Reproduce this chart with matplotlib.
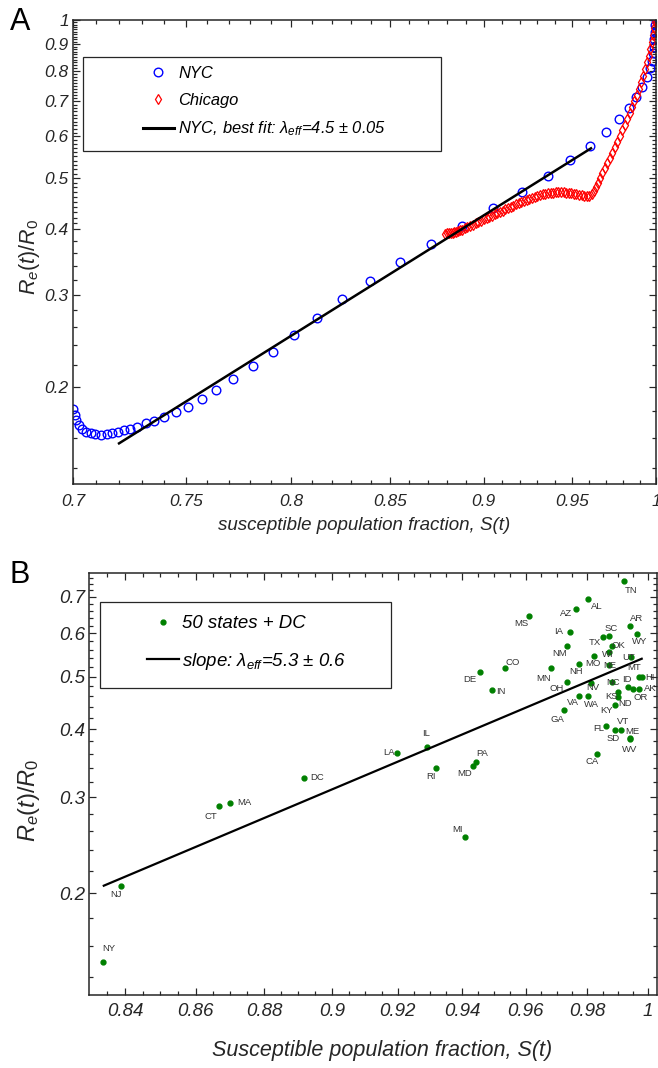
import numpy as np
import matplotlib
matplotlib.use("Agg")
import matplotlib.pyplot as plt
from matplotlib.lines import Line2D
from matplotlib.patches import Rectangle
from matplotlib.ticker import NullFormatter

plt.rcParams["font.family"] = ["Liberation Sans", "DejaVu Sans"]
plt.rcParams["mathtext.fontset"] = "custom"
plt.rcParams["mathtext.rm"] = "Liberation Sans"
plt.rcParams["mathtext.it"] = "Liberation Sans:italic"
plt.rcParams["mathtext.bf"] = "Liberation Sans:bold"

# ---------------- panel A data ----------------
nyc_s = [0.7000, 0.7007, 0.7014, 0.7025, 0.7040, 0.7056, 0.7076, 0.7097, 0.7123, 0.7148,
         0.7170, 0.7195, 0.7224, 0.7250, 0.7279, 0.7318, 0.7356, 0.7402, 0.7455, 0.7508,
         0.7573, 0.7642, 0.7722, 0.7814, 0.7909, 0.8013, 0.8127, 0.8254, 0.8395, 0.8551,
         0.8714, 0.8881, 0.9049, 0.9211, 0.9359, 0.9490, 0.9603, 0.9697, 0.9774, 0.9835,
         0.9880, 0.9916, 0.9944, 0.9962, 0.9975, 0.9983, 0.9988, 0.9990, 0.9993, 0.9995,
         0.9998]
nyc_r = [0.1816, 0.1768, 0.1730, 0.1693, 0.1663, 0.1644, 0.1632, 0.1625, 0.1622, 0.1625,
         0.1632, 0.1640, 0.1654, 0.1663, 0.1680, 0.1705, 0.1725, 0.1753, 0.1789, 0.1834,
         0.1895, 0.1971, 0.2068, 0.2195, 0.2334, 0.2508, 0.2710, 0.2938, 0.3183, 0.3455,
         0.3744, 0.4057, 0.4384, 0.4703, 0.5053, 0.5404, 0.5763, 0.6110, 0.6468, 0.6808,
         0.7144, 0.7465, 0.7800, 0.8090, 0.8350, 0.8640, 0.8890, 0.9190, 0.9500, 0.9780,
         1.0000]

chi_s = [0.8790, 0.8800, 0.8810, 0.8820, 0.8830, 0.8840, 0.8850, 0.8860, 0.8870, 0.8880,
         0.8895, 0.8910, 0.8925, 0.8940, 0.8955, 0.8970, 0.8985, 0.9000, 0.9015, 0.9030,
         0.9045, 0.9060, 0.9075, 0.9090, 0.9105, 0.9120, 0.9135, 0.9150, 0.9165, 0.9180,
         0.9195, 0.9210, 0.9225, 0.9240, 0.9255, 0.9270, 0.9285, 0.9300, 0.9315, 0.9330,
         0.9345, 0.9360, 0.9375, 0.9390, 0.9405, 0.9420, 0.9435, 0.9450, 0.9465, 0.9480,
         0.9495, 0.9510, 0.9525, 0.9540, 0.9555, 0.9570, 0.9585, 0.9600, 0.9615, 0.9628,
         0.9640, 0.9652, 0.9664, 0.9676, 0.9690, 0.9705, 0.9720, 0.9735, 0.9750, 0.9765,
         0.9780, 0.9795, 0.9810, 0.9825, 0.9840, 0.9855, 0.9869, 0.9883, 0.9897, 0.9910,
         0.9923, 0.9935, 0.9946, 0.9956, 0.9966, 0.9975, 0.9983, 0.9990, 0.9996, 1.0000]
chi_r = [0.3920, 0.3921, 0.3924, 0.3929, 0.3936, 0.3945, 0.3955, 0.3966, 0.3978, 0.3990,
         0.4012, 0.4034, 0.4056, 0.4078, 0.4101, 0.4124, 0.4147, 0.4170, 0.4193, 0.4216,
         0.4240, 0.4264, 0.4288, 0.4312, 0.4336, 0.4360, 0.4384, 0.4408, 0.4432, 0.4456,
         0.4480, 0.4505, 0.4528, 0.4550, 0.4571, 0.4591, 0.4610, 0.4627, 0.4643, 0.4657,
         0.4669, 0.4679, 0.4687, 0.4693, 0.4697, 0.4699, 0.4699, 0.4697, 0.4693, 0.4688,
         0.4682, 0.4670, 0.4660, 0.4649, 0.4638, 0.4629, 0.4623, 0.4626, 0.4660, 0.4720,
         0.4800, 0.4900, 0.5000, 0.5110, 0.5220, 0.5330, 0.5450, 0.5580, 0.5720, 0.5860,
         0.6010, 0.6160, 0.6320, 0.6480, 0.6650, 0.6830, 0.7010, 0.7200, 0.7400, 0.7610,
         0.7830, 0.8060, 0.8300, 0.8550, 0.8810, 0.9080, 0.9360, 0.9650, 0.9900, 1.0000]

fit_a_s = [0.720, 0.961]
fit_a_r = [0.1562, 0.5696]

# ---------------- panel B data ----------------
states = ["TN", "AL", "AZ", "MS", "IA", "TX", "SC", "AR", "WY", "NM",
          "OK", "WI", "MO", "UT", "NH", "NE", "MN", "CO", "DE", "MT",
          "HI", "OH", "NV", "NC", "ID", "AK", "OR", "IN", "KS", "ND",
          "VA", "WA", "KY", "GA", "FL", "SD", "VT", "ME", "WV", "CA",
          "PA", "MD", "IL", "LA", "RI", "DC", "MA", "CT", "MI", "NJ", "NY"]
state_s = [0.9921, 0.9803, 0.9762, 0.9612, 0.9743, 0.9852, 0.9872, 0.9941, 0.9962, 0.9732,
           0.9881, 0.9872, 0.9821, 0.9942, 0.9772, 0.9872, 0.9683, 0.9533, 0.9454, 0.9971,
           0.9980, 0.9732, 0.9813, 0.9882, 0.9932, 0.9971, 0.9951, 0.9494, 0.9901, 0.9901,
           0.9772, 0.9802, 0.9892, 0.9723, 0.9861, 0.9892, 0.9911, 0.9941, 0.9941, 0.9831,
           0.9443, 0.9434, 0.9289, 0.9198, 0.9319, 0.8918, 0.8699, 0.8668, 0.9407, 0.8390, 0.8339]
state_r = [0.748, 0.693, 0.6645, 0.6467, 0.6037, 0.591, 0.5927, 0.6184, 0.5985, 0.5697,
           0.5697, 0.554, 0.546, 0.5437, 0.5265, 0.5258, 0.5183, 0.5183, 0.5096, 0.4983,
           0.4983, 0.4892, 0.4858, 0.4892, 0.4777, 0.4749, 0.4737, 0.4717, 0.4677, 0.459,
           0.4598, 0.4598, 0.4426, 0.4333, 0.4055, 0.3987, 0.3987, 0.385, 0.3832, 0.3606,
           0.3486, 0.3428, 0.3706, 0.3613, 0.339, 0.3254, 0.2924, 0.2891, 0.2533, 0.2063, 0.1494]

fit_b_s = [0.8341, 0.9979]
fit_b_r = [0.2063, 0.539]

# where each state label sits relative to its dot (pixels, up is positive)
label_offset = {
    "TN": (7, -9), "AL": (8, -7), "AZ": (-10, -4), "MS": (-8, -8), "IA": (-11, 0),
    "TX": (-8, -6), "SC": (2, 8), "AR": (6, 8), "WY": (3, -7), "NM": (-7, -8),
    "OK": (6, 0), "WI": (-2, -2), "MO": (-1, -8), "UT": (-2, -1), "NH": (-3, -7),
    "NE": (0, -1), "MN": (-8, -10), "CO": (8, 6), "DE": (-10, -7), "MT": (-5, 10),
    "HI": (8, 0), "OH": (-10, -7), "NV": (1, -4), "NC": (1, -1), "ID": (-1, 8),
    "AK": (11, 0), "OR": (7, -8), "IN": (9, -1), "KS": (-7, -4), "ND": (7, -7),
    "VA": (-6, -6), "WA": (3, -8), "KY": (-9, -5), "GA": (-6, -9), "FL": (-7, -2),
    "SD": (-2, -9), "VT": (2, 8), "ME": (2, 7), "WV": (-1, -10), "CA": (-5, -8),
    "PA": (6, 8), "MD": (-9, -8), "IL": (-1, 14), "LA": (-8, 1), "RI": (-5, -8),
    "DC": (13, 1), "MA": (15, 1), "CT": (-8, -11), "MI": (-7, 8), "NJ": (-5, -9),
    "NY": (6, 13),
}

TXT = "#262626"
W, H = 658, 1068


def fig_rect(x0, y0, x1, y1):
    # pixel box (top-left origin) -> figure fraction rect
    return [x0 / W, 1 - y1 / H, (x1 - x0) / W, (y1 - y0) / H]


def style_axes(ax, lw=1.1):
    for sp in ax.spines.values():
        sp.set_linewidth(lw)
        sp.set_color(TXT)
    ax.tick_params(which="both", direction="in", top=True, right=True, colors=TXT, width=lw * 0.8)
    ax.tick_params(which="major", length=5)
    ax.tick_params(which="minor", length=3)
    ax.xaxis.set_minor_formatter(NullFormatter())
    ax.yaxis.set_minor_formatter(NullFormatter())


fig = plt.figure(figsize=(W / 100, H / 100), dpi=100)

# ================= panel A =================
ax1 = fig.add_axes(fig_rect(73, 20, 656, 484))
ax1.set_xscale("log")
ax1.set_yscale("log")
ax1.plot(nyc_s, nyc_r, ls="none", marker="o", ms=6.2, mfc="none", mec="blue", mew=1.0)
ax1.plot(chi_s, chi_r, ls="none", marker="d", ms=5.5, mfc="none", mec="red", mew=0.9)
ax1.plot(fit_a_s, fit_a_r, color="black", lw=1.8)
ax1.set_xlim(0.7, 1.0)
ax1.set_ylim(0.1307, 1.0)
style_axes(ax1)
ax1.set_xticks([0.7, 0.75, 0.8, 0.85, 0.9, 0.95, 1.0],
               ["0.7", "0.75", "0.8", "0.85", "0.9", "0.95", "1"],
               fontstyle="italic", fontsize=12.5, color=TXT)
ax1.set_yticks([0.2, 0.3, 0.4, 0.5, 0.6, 0.7, 0.8, 0.9, 1.0],
               ["0.2", "0.3", "0.4", "0.5", "0.6", "0.7", "0.8", "0.9", "1"],
               fontstyle="italic", fontsize=12.5, color=TXT)
ax1.set_xticks([v / 100 for v in range(71, 100) if v % 5], minor=True)
ax1.set_yticks([0.14, 0.16, 0.18, 0.22, 0.24, 0.26, 0.28, 0.32, 0.34, 0.36, 0.38]
               + [v / 100 for v in range(41, 100) if v % 10], minor=True)
ax1.tick_params(axis="x", which="major", pad=7)
ax1.tick_params(axis="y", which="major", pad=3)
ax1.set_xlabel("susceptible population fraction, S(t)", fontstyle="italic", fontsize=13.5, color=TXT)
ax1.xaxis.set_label_coords(0.5, -0.071)
ax1.set_ylabel("$R_e(t)/R_0$", fontsize=15.5, color=TXT)
ax1.yaxis.set_label_coords(-0.053, 0.49)

fig.add_artist(Rectangle((83 / W, 1 - 151 / H), (441 - 83) / W, (151 - 57) / H,
                         transform=fig.transFigure, fill=False, ec=TXT, lw=0.9))
h_a = [Line2D([], [], ls="none", marker="o", ms=6.2, mfc="none", mec="blue", mew=1.0),
       Line2D([], [], ls="none", marker="d", ms=5.5, mfc="none", mec="red", mew=0.9),
       Line2D([], [], color="black", lw=2.2)]
ax1.legend(h_a, ["NYC", "Chicago", r"NYC, best fit: $\lambda_{eff}$=4.5 $\pm$ 0.05"],
           loc="upper left", bbox_to_anchor=(143 / W, 1 - 66 / H), bbox_transform=fig.transFigure,
           frameon=False, prop={"style": "italic", "size": 11.9}, handlelength=1.85,
           handletextpad=0.28, labelspacing=0.72, borderpad=0, borderaxespad=0)
fig.text(20 / W, 1 - 22 / H, "A", fontsize=22, ha="center", va="center", color="black")

# ================= panel B =================
ax2 = fig.add_axes(fig_rect(89, 573, 657, 995))
ax2.set_xscale("log")
ax2.set_yscale("log")
ax2.plot(state_s, state_r, ls="none", marker="o", ms=3.5, color="green")
ax2.plot(fit_b_s, fit_b_r, color="black", lw=1.6)
for name, s, r in zip(states, state_s, state_r):
    ax2.annotate(name, (s, r), xytext=label_offset[name], textcoords="offset pixels",
                 ha="center", va="center", fontsize=6.8, color="#333333")
ax2.set_xlim(0.830, 1.003)
ax2.set_ylim(0.1299, 0.7748)
style_axes(ax2)
ax2.set_xticks([0.84, 0.86, 0.88, 0.9, 0.92, 0.94, 0.96, 0.98, 1.0],
               ["0.84", "0.86", "0.88", "0.9", "0.92", "0.94", "0.96", "0.98", "1"],
               fontstyle="italic", fontsize=13.5, color=TXT)
ax2.set_yticks([0.2, 0.3, 0.4, 0.5, 0.6, 0.7],
               ["0.2", "0.3", "0.4", "0.5", "0.6", "0.7"],
               fontstyle="italic", fontsize=13.5, color=TXT)
ax2.set_xticks([v / 1000 for v in range(835, 1001, 5) if v % 20], minor=True)
ax2.set_yticks([v / 100 for v in range(14, 78, 2) if v % 10], minor=True)
ax2.tick_params(axis="x", which="major", pad=6)
ax2.tick_params(axis="y", which="major", pad=3)
ax2.set_xlabel("Susceptible population fraction, S(t)", fontstyle="italic", fontsize=15.5, color=TXT)
ax2.xaxis.set_label_coords(0.516, -0.107)
ax2.set_ylabel("$R_e(t)/R_0$", fontsize=17, color=TXT)
ax2.yaxis.set_label_coords(-0.083, 0.462)

fig.add_artist(Rectangle((100 / W, 1 - 688 / H), (391 - 100) / W, (688 - 602) / H,
                         transform=fig.transFigure, fill=False, ec=TXT, lw=0.9))
h_b = [Line2D([], [], ls="none", marker="o", ms=3.5, color="green"),
       Line2D([], [], color="black", lw=1.6)]
ax2.legend(h_b, ["50 states + DC", r"slope: $\lambda_{eff}$=5.3 $\pm$ 0.6"],
           loc="upper left", bbox_to_anchor=(147 / W, 1 - 615 / H), bbox_transform=fig.transFigure,
           frameon=False, prop={"style": "italic", "size": 13.4}, handlelength=1.7,
           handletextpad=0.18, labelspacing=1.0, borderpad=0, borderaxespad=0)
fig.text(20 / W, 1 - 575 / H, "B", fontsize=22, ha="center", va="center", color="black")

fig.savefig("out.png", dpi=100)
